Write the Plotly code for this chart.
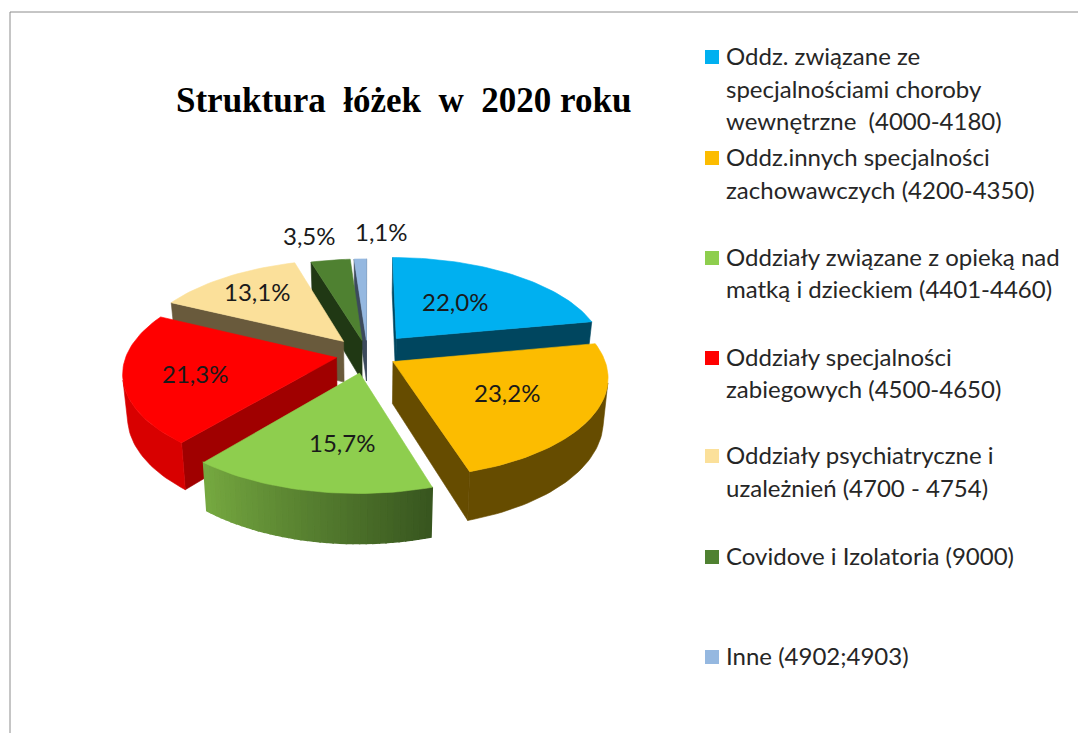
import math
import plotly.graph_objects as go

categories = ["Oddz. związane ze specjalnościami choroby wewnętrzne  (4000-4180)",
              "Oddz.innych specjalności zachowawczych (4200-4350)",
              "Oddziały związane z opieką nad matką i dzieckiem (4401-4460)",
              "Oddziały specjalności zabiegowych (4500-4650)",
              "Oddziały psychiatryczne i uzależnień (4700 - 4754)",
              "Covidove i Izolatoria (9000)",
              "Inne (4902;4903)"]
values = [22.0, 23.2, 15.7, 21.3, 13.1, 3.5, 1.1]
pull = [0.22, 0.14, 0.19, 0.15, 0.18, 0.15, 0.15]
top_colors = ["#00B0F0", "#FCBC00", "#8ECE4E", "#FF0000", "#FBE09A", "#4F8131", "#95B8E0"]
face_colors = ["#00465F", "#664C00", "#3A5A20", "#A00000", "#695A3C", "#203814", "#3C4A5C"]
rim_start = ["#00465F", "#664C00", "#38561F", "#D80000", "#695A3C", "#203814", "#3C4A5C"]
rim_end = ["#00465F", "#664C00", "#75A840", "#D80000", "#695A3C", "#203814", "#3C4A5C"]
draw_order = [6, 5, 4, 0, 3, 1, 2]

label_x = [455, 507, 342, 195, 257, 309, 381]
label_y = [301, 392, 442, 373, 291, 235, 231]

legend_lines = [["Oddz. związane ze", "specjalnościami choroby", "wewnętrzne  (4000-4180)"],
                ["Oddz.innych specjalności", "zachowawczych (4200-4350)"],
                ["Oddziały związane z opieką nad", "matką i dzieckiem (4401-4460)"],
                ["Oddziały specjalności", "zabiegowych (4500-4650)"],
                ["Oddziały psychiatryczne i", "uzależnień (4700 - 4754)"],
                ["Covidove i Izolatoria (9000)"],
                ["Inne (4902;4903)"]]
legend_y = [[55, 88, 120], [156, 189], [256, 288], [356, 388], [454, 487], [555], [655]]

CX, CY, A, B, K, T = 367.5, 354.5, 210, 97, 0.145, 41.5


def project(X, Y, bottom=False):
    s = 1 / (1 + K * Y)
    sx = A * X * s
    sy = CY - B * Y * s
    if bottom:
        return CX + sx * 0.98, sy + T * s
    return CX + sx, sy


def mix(c1, c2, t):
    a = [int(c1[i:i + 2], 16) for i in (1, 3, 5)]
    b = [int(c2[i:i + 2], 16) for i in (1, 3, 5)]
    return "#%02X%02X%02X" % tuple(round(u + (v - u) * t) for u, v in zip(a, b))


def area(p):
    return sum(p[i][0] * p[(i + 1) % len(p)][1] - p[(i + 1) % len(p)][0] * p[i][1] for i in range(len(p)))


fig = go.Figure()


def poly(points, color, width=0.6):
    fig.add_trace(go.Scatter(x=[p[0] for p in points] + [points[0][0]],
                             y=[p[1] for p in points] + [points[0][1]],
                             mode="lines", fill="toself", fillcolor=color,
                             line=dict(color=color, width=width),
                             hoverinfo="skip", showlegend=False))


total = sum(values)
starts = []
acc = 0
for v in values:
    starts.append(acc)
    acc += v

for i in draw_order:
    a0 = starts[i] / total * 2 * math.pi
    a1 = (starts[i] + values[i]) / total * 2 * math.pi
    mid = (a0 + a1) / 2
    ox, oy = pull[i] * math.sin(mid), pull[i] * math.cos(mid)
    n = max(2, int((a1 - a0) / math.radians(1.5)))
    ang = [a0 + (a1 - a0) * j / n for j in range(n + 1)]
    rim = [(ox + math.sin(t), oy + math.cos(t)) for t in ang]

    def quad(a, b):
        return [project(*a), project(*b), project(*b, bottom=True), project(*a, bottom=True)]

    q = quad((ox, oy), rim[0])
    if area(q) < 0:
        poly(q, face_colors[i])
    q = quad(rim[-1], (ox, oy))
    if area(q) < 0:
        poly(q, face_colors[i])
    vis = [j for j in range(n) if area(quad(rim[j], rim[j + 1])) < 0]
    if vis and rim_start[i] == rim_end[i]:
        span = rim[vis[0]:vis[-1] + 2]
        poly([project(*p) for p in span] + [project(*p, bottom=True) for p in reversed(span)], rim_start[i])
    else:
        for j in vis:
            poly(quad(rim[j], rim[j + 1]), mix(rim_start[i], rim_end[i], j / max(1, n - 1)), width=1.5)
    poly([project(ox, oy)] + [project(*p) for p in rim], top_colors[i])

annotations = []
for v, x, y in zip(values, label_x, label_y):
    annotations.append(dict(x=x, y=y, xref="x", yref="y", showarrow=False,
                            text=f"{v:.1f}".replace(".", ",") + "%",
                            font=dict(family="Lato", size=24, color="#1A1A1A")))
sq_x, sq_y = [], []
for lines, ys in zip(legend_lines, legend_y):
    sq_x.append(712)
    sq_y.append(ys[0] + 2)
    for t, y in zip(lines, ys):
        annotations.append(dict(x=724, y=y, xref="x", yref="y", xanchor="left", showarrow=False,
                                text=t, font=dict(family="Lato", size=24, color="#262626")))
fig.add_trace(go.Scatter(x=sq_x, y=sq_y, mode="markers", hoverinfo="skip", showlegend=False,
                         marker=dict(symbol="square", size=14, color=top_colors, line=dict(width=0))))
annotations.append(dict(x=403, y=100, xref="x", yref="y", showarrow=False,
                        text="<b>Struktura\u00a0 łóżek\u00a0 w\u00a0 2020 roku</b>",
                        font=dict(family="Liberation Serif", size=35, color="#000000")))

fig.update_layout(width=1078, height=733, autosize=False, margin=dict(l=0, r=0, t=0, b=0),
                  paper_bgcolor="white", plot_bgcolor="white", annotations=annotations,
                  xaxis=dict(range=[0, 1078], visible=False, fixedrange=True),
                  yaxis=dict(range=[733, 0], visible=False, fixedrange=True),
                  shapes=[dict(type="line", x0=10, x1=10, y0=12, y1=733, line=dict(color="#8C8C8C", width=1)),
                          dict(type="line", x0=10, x1=1078, y0=12, y1=12, line=dict(color="#8C8C8C", width=1))])
fig.write_html("out.html", config=dict(displayModeBar=False),
               post_script="document.body.style.margin='0';document.documentElement.style.overflow='hidden';")
